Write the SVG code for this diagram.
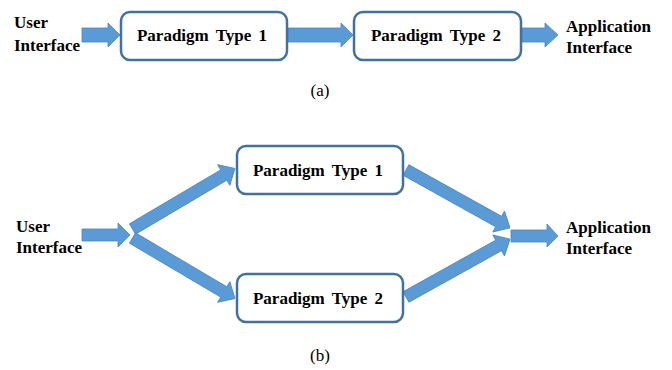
<svg xmlns="http://www.w3.org/2000/svg" width="672" height="370" viewBox="0 0 672 370">
<style>
.arrow{fill:#5B9BD5;stroke:#4A86BF;stroke-width:0.8;stroke-linejoin:miter}
.box{fill:#FFFFFF;stroke:#41719C;stroke-width:2.5}
.lbl{font-family:"Liberation Serif","Times New Roman",serif;font-weight:bold;font-size:17px;fill:#000}
.bx{font-family:"Liberation Serif","Times New Roman",serif;font-weight:bold;font-size:17px;fill:#000;text-anchor:middle;word-spacing:3px}
.cap{font-family:"Liberation Serif","Times New Roman",serif;font-size:17px;fill:#000;text-anchor:middle}
</style>
<defs>
<path id="diag" d="M0,-6 H106 V-12 L119,0 L106,12 V6 H0 Z"/>
</defs>
<rect width="672" height="370" fill="#FFFFFF"/>

<g id="connectors">
<path class="arrow" d="M82,28 H108 V23 L120,35 L108,47 V42 H82 Z"/>
<path class="arrow" d="M288,28 H341 V23 L353,35 L341,47 V42 H288 Z"/>
<path class="arrow" d="M522,28 H545 V23 L558,35 L545,47 V42 H522 Z"/>
<path class="arrow" d="M82,229 H118 V223 L130,235 L118,247 V241 H82 Z"/>
<use href="#diag" class="arrow" transform="translate(132.5,229) rotate(-30.6)"/>
<use href="#diag" class="arrow" transform="translate(132.5,238) rotate(30.6)"/>
<use href="#diag" class="arrow" transform="translate(406,170) rotate(29.1)"/>
<use href="#diag" class="arrow" transform="translate(406,297) rotate(-29.1)"/>
<path class="arrow" d="M511,230 H547 V224 L558,236 L547,247 V242 H511 Z"/>
</g>

<g id="a-user">
<text class="lbl" x="14" y="28">User</text>
<text class="lbl" x="14" y="50.5">Interface</text>
</g>
<g id="a-p1">
<rect class="box" x="121" y="12" width="166" height="48" rx="9"/>
<text class="bx" x="202" y="41">Paradigm Type 1</text>
</g>
<g id="a-p2">
<rect class="box" x="354" y="12" width="167" height="48" rx="9"/>
<text class="bx" x="436" y="41">Paradigm Type 2</text>
</g>
<g id="a-app">
<text class="lbl" x="566" y="31.5">Application</text>
<text class="lbl" x="566" y="52.5">Interface</text>
</g>
<g id="cap-a"><text class="cap" x="320" y="96">(a)</text></g>

<g id="b-user">
<text class="lbl" x="16" y="231.5">User</text>
<text class="lbl" x="16" y="253">Interface</text>
</g>
<g id="b-p1">
<rect class="box" x="237" y="146" width="166" height="48" rx="9"/>
<text class="bx" x="318" y="176">Paradigm Type 1</text>
</g>
<g id="b-p2">
<rect class="box" x="237" y="274" width="166" height="48" rx="9"/>
<text class="bx" x="318" y="303.5">Paradigm Type 2</text>
</g>
<g id="b-app">
<text class="lbl" x="566" y="232.5">Application</text>
<text class="lbl" x="566" y="254">Interface</text>
</g>
<g id="cap-b"><text class="cap" x="320" y="361">(b)</text></g>
</svg>
